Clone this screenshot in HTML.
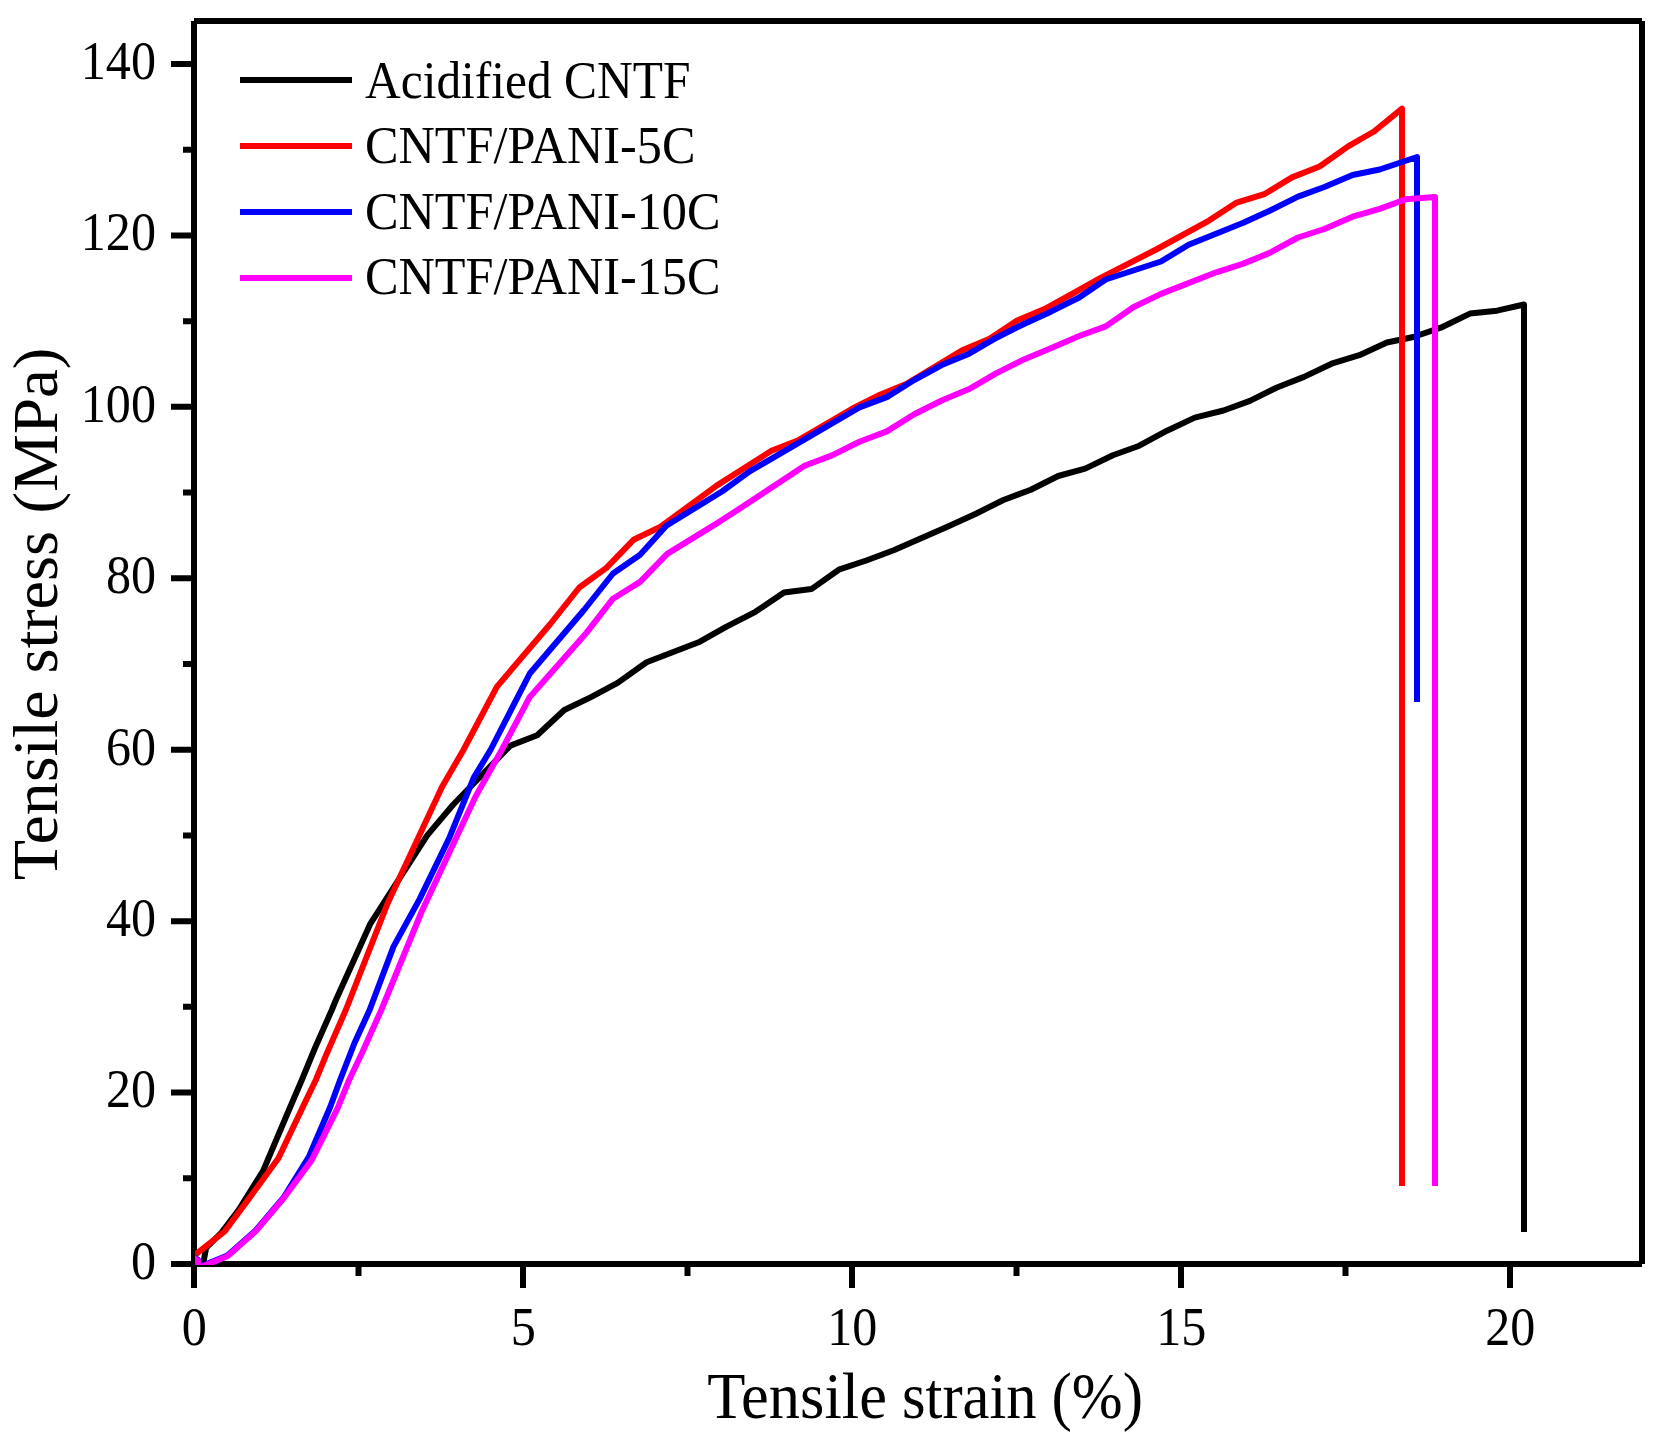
<!DOCTYPE html>
<html><head><meta charset="utf-8"><title>Tensile stress-strain</title>
<style>html,body{margin:0;padding:0;background:#fff}svg{display:block}text{font-family:"Liberation Serif",serif;fill:#000}</style></head>
<body>
<svg width="1664" height="1444" viewBox="0 0 1664 1444">
<rect width="1664" height="1444" fill="#fff"/>
<defs><clipPath id="c"><rect x="195" y="22" width="1446" height="1243"/></clipPath></defs>
<g stroke="#000" stroke-width="6" fill="none" stroke-linecap="butt">
<path d="M194,21H1642M1642,21V1264M194,1264H1642M194,21V1264"/>
<path d="M171,1264.00H194M171,1092.57H194M171,921.14H194M171,749.71H194M171,578.29H194M171,406.86H194M171,235.43H194M171,64.00H194M183,1178.29H194M183,1006.86H194M183,835.43H194M183,664.00H194M183,492.57H194M183,321.14H194M183,149.71H194M194.00,1264V1288M523.00,1264V1288M852.00,1264V1288M1181.00,1264V1288M1510.00,1264V1288M358.50,1264V1276M687.50,1264V1276M1016.50,1264V1276M1345.50,1264V1276"/>
</g>
<g clip-path="url(#c)">
<polyline points="194.0,1262.0 202.6,1267.0 206.1,1248.0 221.5,1232.5 238.6,1210.0 263.1,1170.9 288.3,1111.5 301.8,1080.0 315.0,1048.0 331.8,1010.0 335.9,1000.0 370.1,924.2 427.2,835.4 453.3,804.5 510.4,745.6 537.2,735.2 564.3,710.0 591.5,696.9 617.6,682.9 646.6,662.3 699.9,641.7 726.1,626.8 755.4,611.8 784.0,592.5 811.4,589.1 838.8,569.7 866.3,560.5 893.7,550.2 948.5,526.2 975.9,513.7 1003.4,500.0 1030.8,489.7 1058.2,476.0 1085.2,468.6 1112.9,455.3 1139.3,445.7 1167.0,430.7 1194.8,417.6 1223.5,410.5 1249.9,400.9 1276.3,387.7 1304.0,376.9 1331.6,363.7 1359.3,355.2 1386.9,342.5 1413.4,337.0 1440.8,327.7 1469.9,313.6 1497.0,310.7 1524.0,304.5 1524.0,1232.0" fill="none" stroke="#000" stroke-width="6" stroke-linejoin="round" stroke-linecap="butt"/>
<polyline points="193.0,1256.4 224.6,1231.5 249.5,1197.9 278.4,1158.3 305.4,1101.6 315.8,1080.0 326.5,1054.2 345.8,1010.0 387.9,902.7 442.1,786.7 463.4,750.0 497.0,686.6 550.3,624.0 579.3,587.5 606.4,567.9 633.5,539.8 660.6,526.7 716.7,485.6 771.4,450.8 797.7,440.5 852.5,408.5 880.0,394.8 907.4,383.4 962.2,350.3 989.6,338.8 1017.1,320.6 1044.5,309.1 1072.0,294.0 1099.7,278.3 1156.2,249.5 1209.0,220.6 1236.7,202.6 1264.3,194.2 1292.0,177.4 1319.6,166.5 1348.5,146.1 1374.0,131.5 1402.0,108.7 1402.0,1186.0" fill="none" stroke="#ff0000" stroke-width="6" stroke-linejoin="round" stroke-linecap="butt"/>
<polyline points="192.0,1256.2 198.0,1259.9 198.7,1267.2 227.4,1255.4 255.4,1230.7 283.6,1197.5 309.0,1156.5 330.2,1107.0 340.1,1080.0 354.5,1043.0 369.6,1010.0 393.5,946.6 419.7,898.9 449.6,837.2 473.9,777.4 490.5,750.0 529.8,673.5 584.0,610.0 613.0,573.5 640.1,554.8 666.3,525.8 722.3,491.2 749.7,471.4 804.6,439.4 832.0,423.4 859.4,407.4 886.8,397.1 914.2,380.0 941.7,365.1 969.1,353.7 996.5,337.7 1023.9,324.0 1051.4,311.4 1079.2,297.5 1105.7,279.5 1161.0,261.5 1188.6,244.7 1242.7,223.0 1269.1,211.0 1298.0,196.6 1324.4,187.0 1352.6,175.0 1379.7,169.5 1417.0,157.0 1417.0,702.0" fill="none" stroke="#0000ff" stroke-width="6" stroke-linejoin="round" stroke-linecap="butt"/>
<polyline points="192.0,1257.0 198.0,1260.7 198.7,1268.0 227.4,1256.2 255.4,1231.5 283.8,1198.0 311.7,1160.1 337.8,1107.9 349.1,1080.0 362.0,1053.0 381.3,1010.0 421.5,912.0 475.8,796.1 501.7,750.0 529.8,696.9 585.0,634.6 613.0,598.7 640.1,581.9 667.2,553.9 720.5,521.1 749.7,502.1 804.6,465.7 832.0,455.4 859.4,441.7 886.8,431.4 914.2,414.3 941.7,400.5 969.1,389.1 996.5,373.1 1023.9,359.4 1051.4,348.0 1079.2,336.0 1105.7,326.4 1133.3,307.2 1161.0,293.9 1216.3,272.3 1242.7,263.9 1269.1,253.1 1298.0,237.5 1324.4,229.0 1352.6,216.7 1379.7,208.9 1405.9,199.2 1435.0,196.9 1435.0,1186.0" fill="none" stroke="#ff00ff" stroke-width="6" stroke-linejoin="round" stroke-linecap="butt"/>
</g>
<text x="156" y="1278.8" font-size="55.4" text-anchor="end" textLength="25.1" lengthAdjust="spacingAndGlyphs">0</text>
<text x="156" y="1107.4" font-size="55.4" text-anchor="end" textLength="50.1" lengthAdjust="spacingAndGlyphs">20</text>
<text x="156" y="935.9" font-size="55.4" text-anchor="end" textLength="50.1" lengthAdjust="spacingAndGlyphs">40</text>
<text x="156" y="764.5" font-size="55.4" text-anchor="end" textLength="50.1" lengthAdjust="spacingAndGlyphs">60</text>
<text x="156" y="593.1" font-size="55.4" text-anchor="end" textLength="50.1" lengthAdjust="spacingAndGlyphs">80</text>
<text x="156" y="421.7" font-size="55.4" text-anchor="end" textLength="75.2" lengthAdjust="spacingAndGlyphs">100</text>
<text x="156" y="250.2" font-size="55.4" text-anchor="end" textLength="75.2" lengthAdjust="spacingAndGlyphs">120</text>
<text x="156" y="78.8" font-size="55.4" text-anchor="end" textLength="75.2" lengthAdjust="spacingAndGlyphs">140</text>
<text x="194.3" y="1345.2" font-size="55.4" text-anchor="middle" textLength="25.1" lengthAdjust="spacingAndGlyphs">0</text>
<text x="523.3" y="1345.2" font-size="55.4" text-anchor="middle" textLength="25.1" lengthAdjust="spacingAndGlyphs">5</text>
<text x="852.3" y="1345.2" font-size="55.4" text-anchor="middle" textLength="50.1" lengthAdjust="spacingAndGlyphs">10</text>
<text x="1181.3" y="1345.2" font-size="55.4" text-anchor="middle" textLength="50.1" lengthAdjust="spacingAndGlyphs">15</text>
<text x="1510.3" y="1345.2" font-size="55.4" text-anchor="middle" textLength="50.1" lengthAdjust="spacingAndGlyphs">20</text>
<text id="xt" y="1418" font-size="66.5"><tspan x="707.3" textLength="179.6" lengthAdjust="spacingAndGlyphs">Tensile</tspan> <tspan x="902.0" textLength="134.6" lengthAdjust="spacingAndGlyphs">strain</tspan> <tspan x="1051.5" textLength="91.5" lengthAdjust="spacingAndGlyphs">(%)</tspan></text>
<text id="yt" transform="translate(57,615) rotate(-90)" font-size="62.5"><tspan x="-265.3" textLength="190" lengthAdjust="spacingAndGlyphs">Tensile</tspan> <tspan x="-58.5" textLength="142.5" lengthAdjust="spacingAndGlyphs">stress</tspan> <tspan x="101.6" textLength="165.8" lengthAdjust="spacingAndGlyphs">(MPa)</tspan></text>
<line x1="240" y1="80" x2="352" y2="80" stroke="#000" stroke-width="6"/>
<text class="lg" x="365" y="98.2" font-size="53.4" textLength="325.5" lengthAdjust="spacingAndGlyphs">Acidified CNTF</text>
<line x1="240" y1="146" x2="352" y2="146" stroke="#ff0000" stroke-width="6"/>
<text class="lg" x="365" y="163.4" font-size="53.4" textLength="330.5" lengthAdjust="spacingAndGlyphs">CNTF/PANI-5C</text>
<line x1="240" y1="212" x2="352" y2="212" stroke="#0000ff" stroke-width="6"/>
<text class="lg" x="365" y="228.7" font-size="53.4" textLength="355.5" lengthAdjust="spacingAndGlyphs">CNTF/PANI-10C</text>
<line x1="240" y1="278" x2="352" y2="278" stroke="#ff00ff" stroke-width="6"/>
<text class="lg" x="365" y="294.1" font-size="53.4" textLength="355.5" lengthAdjust="spacingAndGlyphs">CNTF/PANI-15C</text>
</svg>
</body></html>
